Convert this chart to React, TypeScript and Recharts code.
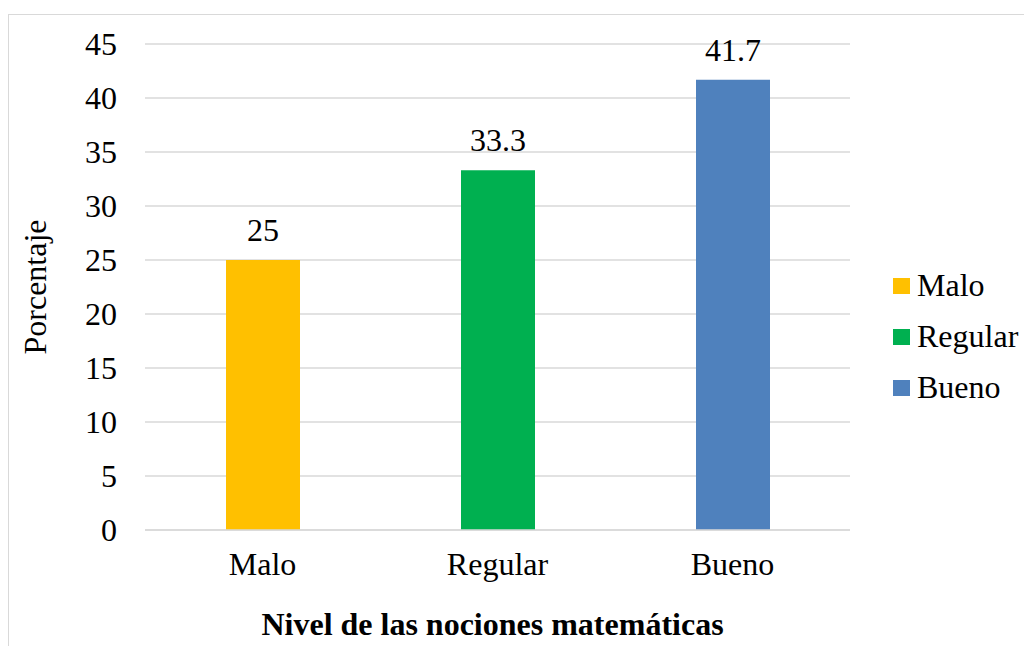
import { BarChart, Bar, XAxis, YAxis, CartesianGrid, Cell, LabelList } from 'recharts';

const categories = ['Malo', 'Regular', 'Bueno'];
const percentages = [25, 33.3, 41.7];
const barColors = ['#FFC000', '#00B050', '#4F81BD'];
const yTicks = [0, 5, 10, 15, 20, 25, 30, 35, 40, 45];

const FONT = '"Liberation Serif", "Times New Roman", serif';

export default function App() {
  const chartData = categories.map((name, i) => ({ name, value: percentages[i] }));

  return (
    <div style={{ position: 'relative', width: 1032, height: 654, margin: -8, overflow: 'hidden', background: '#fff', fontFamily: FONT }}>
      {/* chart border (right and bottom edges fall outside the picture) */}
      <div style={{ position: 'absolute', left: 8, top: 14, width: 1100, height: 700, border: '1px solid #d9d9d9' }} />
      <BarChart
        width={1032}
        height={654}
        data={chartData}
        margin={{ top: 44, right: 182, bottom: 0, left: 0 }}
        style={{ position: 'absolute', left: 0, top: 0 }}
      >
        <CartesianGrid vertical={false} stroke="#d9d9d9" strokeWidth={1.5} />
        <XAxis
          dataKey="name"
          height={124}
          tickLine={false}
          tickSize={0}
          tickMargin={22}
          axisLine={{ stroke: '#d9d9d9', strokeWidth: 1.5 }}
          tick={{ fill: '#000', fontSize: 32, fontFamily: FONT }}
          label={{
            value: 'Nivel de las nociones matemáticas',
            position: 'insideBottom',
            offset: 19,
            dx: -5,
            style: { fill: '#000', fontSize: 32, fontWeight: 'bold', fontFamily: FONT }
          }}
        />
        <YAxis
          width={145}
          domain={[0, 45]}
          ticks={yTicks}
          interval={0}
          tickLine={false}
          tickSize={0}
          tickMargin={28}
          axisLine={false}
          tick={{ fill: '#000', fontSize: 32, fontFamily: FONT }}
          label={{
            value: 'Porcentaje',
            angle: -90,
            position: 'insideLeft',
            offset: 35,
            style: { fill: '#000', fontSize: 32, fontFamily: FONT, textAnchor: 'middle' }
          }}
        />
        <Bar dataKey="value" barSize={74} isAnimationActive={false}>
          {chartData.map((d, i) => (
            <Cell key={d.name} fill={barColors[i]} />
          ))}
          <LabelList dataKey="value" position="top" offset={19} fill="#000" fontSize={32} fontFamily={FONT} />
        </Bar>
      </BarChart>
      {/* legend */}
      <div style={{ position: 'absolute', left: 893, top: 260 }}>
        {categories.map((name, i) => (
          <div key={name} style={{ display: 'flex', alignItems: 'center', height: 51 }}>
            <div style={{ width: 17, height: 16, background: barColors[i], marginRight: 7 }} />
            <span style={{ fontSize: 32, lineHeight: '51px', color: '#000', fontFamily: FONT }}>{name}</span>
          </div>
        ))}
      </div>
    </div>
  );
}
